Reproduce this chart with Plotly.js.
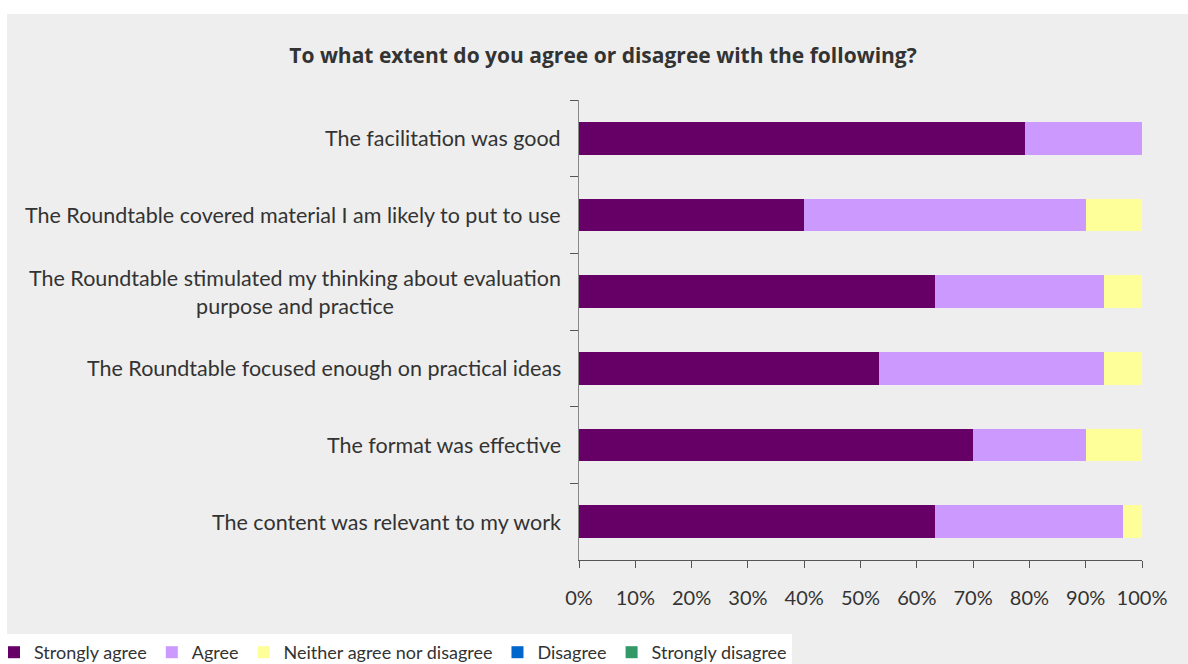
<!DOCTYPE html>
<html><head><meta charset="utf-8">
<script src="https://cdn.plot.ly/plotly-3.0.1.min.js"></script>
<style>html,body{margin:0;padding:0;background:#fff;overflow:hidden;}#chart{width:1188px;height:664px;}</style>
</head><body><div id="chart"></div>
<script>
const categories = [
  "The facilitation was good",
  "The Roundtable covered material I am likely to put to use",
  "The Roundtable stimulated my thinking about evaluation<br>purpose and practice",
  "The Roundtable focused enough on practical ideas",
  "The format was effective",
  "The content was relevant to my work"
];
const seriesNames = ["Strongly agree","Agree","Neither agree nor disagree","Disagree","Strongly disagree"];
const stronglyAgree = [0.793, 0.400, 0.633, 0.533, 0.700, 0.633];
const agree         = [0.207, 0.500, 0.300, 0.400, 0.200, 0.333];
const neither       = [0.000, 0.100, 0.067, 0.067, 0.100, 0.034];
const disagree      = [0, 0, 0, 0, 0, 0];
const stronglyDisagree = [0, 0, 0, 0, 0, 0];
const colors = ["#660066","#CC99FF","#FFFF99","#0066CC","#339966"];
const xTickVals = [0,0.1,0.2,0.3,0.4,0.5,0.6,0.7,0.8,0.9,1.0];

const FONT = "Lato, 'Open Sans', sans-serif";
const values = [stronglyAgree, agree, neither, disagree, stronglyDisagree];
const traces = values.map((v,i)=>({
  type:'bar', orientation:'h', name:seriesNames[i], x:v, y:categories,
  marker:{color:colors[i], line:{width:0}}, hoverinfo:'x+name'
}));

const W=1188, H=664, L=579, R=46, T=100, B=104;
const pw=W-L-R, ph=H-T-B;
const px2x = p => (p-L)/pw;
const py2y = p => (H-B-p)/ph;

const annotations = categories.map(c=>({
  xref:'paper', yref:'y', x:px2x(563), y:c, xanchor:'right', yanchor:'middle',
  text:c, showarrow:false, align:'center',
  font:{family:FONT, size:21.5, color:'#333333'}
}));

const layout = {
  width:W, height:H,
  margin:{l:L, r:R, t:T, b:B, pad:0, autoexpand:false},
  paper_bgcolor:'#ffffff', plot_bgcolor:'rgba(0,0,0,0)',
  barmode:'stack', bargap:0.575,
  title:{text:'<b>To what extent do you agree or disagree with the following?</b>',
    xref:'container', x:603/W, xanchor:'center', yref:'container', y:1-56/H, yanchor:'middle',
    font:{family:"'Open Sans', Lato, sans-serif", size:21, color:'#333333'}},
  xaxis:{range:[0,1], tickvals:xTickVals, tickformat:'.0%', showgrid:false, zeroline:false,
    showline:true, linecolor:'#555555', linewidth:1, ticks:'outside', ticklen:7, tickcolor:'#555555',
    ticklabelstandoff:13,
    tickfont:{family:FONT, size:20, color:'#333333'}, fixedrange:true},
  yaxis:{type:'category', autorange:'reversed', showticklabels:false, tickson:'boundaries',
    ticks:'outside', ticklen:8, tickcolor:'#555555', showline:true, linecolor:'#888888', linewidth:1,
    showgrid:false, zeroline:false, fixedrange:true},
  shapes:[{type:'rect', xref:'paper', yref:'paper', layer:'below',
    x0:px2x(7), x1:px2x(1190), y0:py2y(670), y1:py2y(14),
    fillcolor:'#eeeeee', line:{width:0}}],
  annotations:annotations,
  showlegend:true,
  legend:{orientation:'h', xref:'paper', yref:'paper', x:px2x(-6), xanchor:'left', y:py2y(634), yanchor:'top',
    bgcolor:'#ffffff', borderwidth:0, font:{family:FONT, size:18, color:'#333333'},
    traceorder:'normal', itemwidth:30, tracegroupgap:0}
};
Plotly.newPlot('chart', traces, layout, {displayModeBar:false, staticPlot:true});
</script></body></html>
